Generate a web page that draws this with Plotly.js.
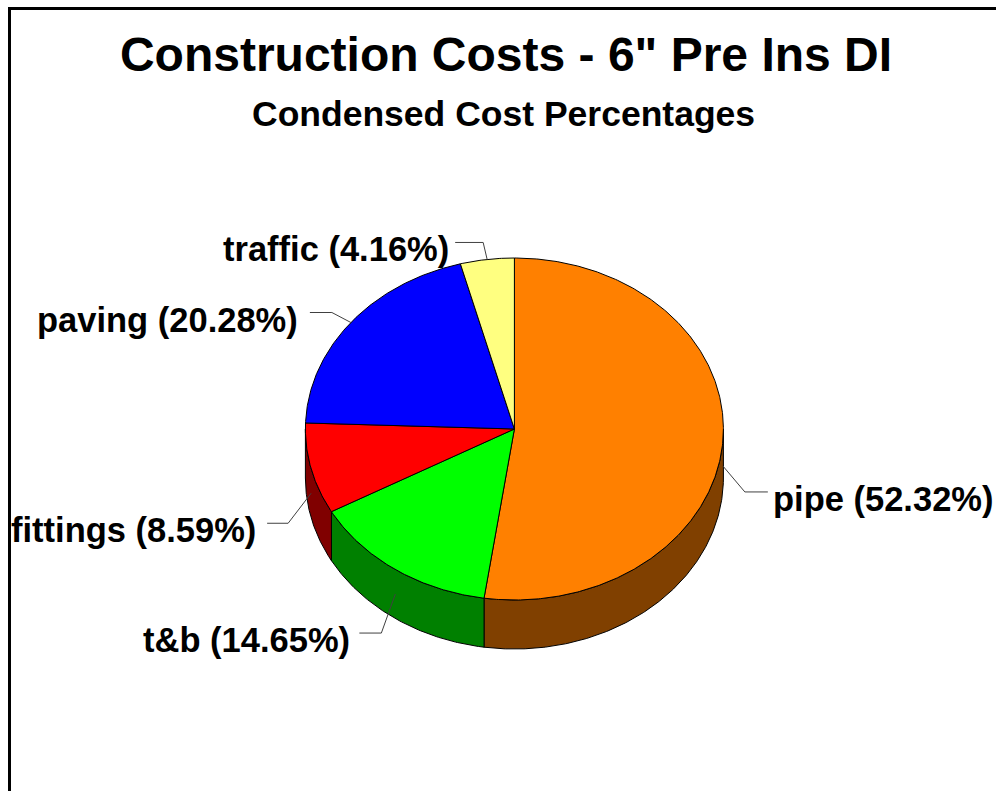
<!DOCTYPE html>
<html>
<head>
<meta charset="utf-8">
<script src="https://cdn.plot.ly/plotly-3.0.1.min.js"></script>
<style>
html,body{margin:0;padding:0;background:#ffffff;}
#chart{width:996px;height:791px;}
</style>
</head>
<body>
<div id="chart"></div>
<script>
// ---- data ----
const categories = ["pipe", "t&b", "fittings", "paving", "traffic"];
const percentages = [52.32, 14.65, 8.59, 20.28, 4.16];
const chartTitle = 'Construction Costs - 6" Pre Ins DI';
const chartSubtitle = "Condensed Cost Percentages";

// ---- styles ----
const topColors  = ["#FF8000", "#00FF00", "#FF0000", "#0000FF", "#FFFF80"];
const sideColors = ["#804000", "#008000", "#800000", "#000080", "#808040"];
const FONT = "Liberation Sans, Arial, Helvetica, sans-serif";

// ---- geometry (pixel-like axis units) ----
const W = 996, H = 791;
const CX = 514.4, CY = 429, RX = 209, RY = 171, DEPTH = 49;
// leader layout per label: knee offset, horizontal run, text gap
const leaderLayout = [
  {dx: 22,  dy: 26,  hx: 23,  gap: 3},
  {dx: -14, dy: 39,  hx: -22, gap: 7},
  {dx: -23, dy: 30,  hx: -21, gap: 9},
  {dx: -19, dy: -10, hx: -22, gap: 10},
  {dx: -4,  dy: -17, hx: -28, gap: 4}
];

function pt(theta, dy) {
  const r = theta * Math.PI / 180;
  return [CX + RX * Math.sin(r), CY - RY * Math.cos(r) + (dy || 0)];
}
function arc(a0, a1, dy) {
  const pts = [];
  const n = Math.max(2, Math.ceil((a1 - a0) / 0.5));
  for (let k = 0; k <= n; k++) pts.push(pt(a0 + (a1 - a0) * k / n, dy));
  return pts;
}

const total = percentages.reduce((a, b) => a + b, 0);
let cum = 0;
const slices = percentages.map(p => {
  const a0 = cum / total * 360;
  cum += p;
  return {a0: a0, a1: cum / total * 360};
});

const traces = [];
// side walls (front half only)
slices.forEach((s, i) => {
  const lo = Math.max(s.a0, 90), hi = Math.min(s.a1, 270);
  if (hi > lo) {
    const poly = arc(lo, hi, 0).concat(arc(lo, hi, DEPTH).reverse());
    poly.push(poly[0]);
    traces.push({
      type: "scatter", mode: "lines", fill: "toself",
      x: poly.map(p => p[0]), y: poly.map(p => p[1]),
      fillcolor: sideColors[i], line: {color: "#000000", width: 1},
      hoverinfo: "skip", showlegend: false
    });
  }
});
// top faces
slices.forEach((s, i) => {
  const poly = [[CX, CY]].concat(arc(s.a0, s.a1, 0));
  poly.push([CX, CY]);
  traces.push({
    type: "scatter", mode: "lines", fill: "toself",
    x: poly.map(p => p[0]), y: poly.map(p => p[1]),
    fillcolor: topColors[i], line: {color: "#000000", width: 1},
    name: categories[i], hoverinfo: "name", showlegend: false
  });
});

// leader lines and labels
const annotations = [];
slices.forEach((s, i) => {
  const mid = (s.a0 + s.a1) / 2;
  const front = mid > 90 && mid < 270;
  const P = pt(mid, front ? DEPTH / 2 : 0);
  const L = leaderLayout[i];
  const K = [P[0] + L.dx, P[1] + L.dy];
  const E = [K[0] + L.hx, K[1]];
  traces.push({
    type: "scatter", mode: "lines",
    x: [P[0], K[0], E[0]], y: [P[1], K[1], E[1]],
    line: {color: "#404040", width: 1},
    hoverinfo: "skip", showlegend: false
  });
  const right = L.hx > 0;
  annotations.push({
    xref: "x", yref: "y",
    x: E[0] + (right ? L.gap : -L.gap), y: E[1] + 7,
    xanchor: right ? "left" : "right", yanchor: "middle",
    text: "<b>" + categories[i] + " (" + percentages[i].toFixed(2) + "%)</b>",
    showarrow: false,
    font: {family: FONT, size: 34.5, color: "#000000"}
  });
});

annotations.push({
  xref: "x", yref: "y", x: 503.5, y: 113.7,
  xanchor: "center", yanchor: "middle", showarrow: false,
  text: "<b>" + chartSubtitle + "</b>",
  font: {family: FONT, size: 35.5, color: "#000000"}
});

const layout = {
  width: W, height: H, autosize: false,
  margin: {l: 0, r: 0, t: 0, b: 0, pad: 0},
  paper_bgcolor: "#ffffff", plot_bgcolor: "#ffffff",
  showlegend: false,
  title: {
    text: "<b>" + chartTitle + "</b>",
    font: {family: FONT, size: 48, color: "#000000"},
    xref: "paper", yref: "paper",
    x: 506 / W, xanchor: "center",
    y: 1 - 54 / H, yanchor: "middle"
  },
  xaxis: {range: [0, W], visible: false, fixedrange: true},
  yaxis: {range: [H, 0], visible: false, fixedrange: true},
  shapes: [
    {type: "line", xref: "x", yref: "y", x0: 8, x1: W + 5, y0: 8.5, y1: 8.5,
     line: {color: "#000000", width: 3}},
    {type: "line", xref: "x", yref: "y", x0: 9.5, x1: 9.5, y0: 7, y1: H + 5,
     line: {color: "#000000", width: 3}}
  ],
  annotations: annotations
};

Plotly.newPlot("chart", traces, layout, {displayModeBar: false, staticPlot: true});
</script>
</body>
</html>
